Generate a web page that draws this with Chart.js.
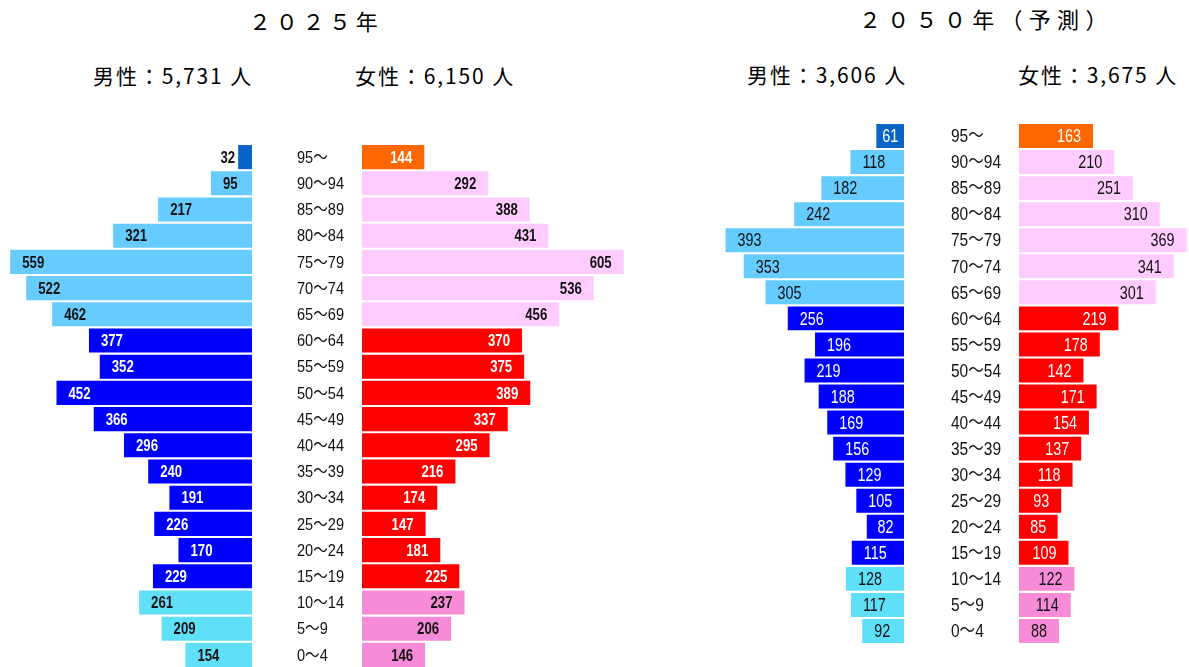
<!DOCTYPE html>
<html><head><meta charset="utf-8">
<script src="https://cdn.jsdelivr.net/npm/chart.js@4/dist/chart.umd.min.js"></script>
<style>
html,body{margin:0;padding:0;background:#fff;width:1189px;height:667px;overflow:hidden;position:relative}
canvas{position:absolute}
.t{position:absolute;font-family:"Noto Sans CJK JP","Noto Sans CJK SC",sans-serif;color:#000;white-space:nowrap;line-height:28px}
.ttl{font-size:22px;letter-spacing:4.7px}
.ttl2{font-size:22px;letter-spacing:6.3px}
.sub{font-size:21px;letter-spacing:1.9px}
</style></head><body>
<div class="t ttl" style="left:249px;top:6px">２０２５年</div>
<div class="t ttl2" style="left:859px;top:4px">２０５０年（予測）</div>
<div class="t sub" id="s1" style="left:93px;top:61px"></div>
<div class="t sub" id="s2" style="left:355px;top:61px"></div>
<div class="t sub" id="s3" style="left:747px;top:60px"></div>
<div class="t sub" id="s4" style="left:1018px;top:60px"></div>
<canvas id="m25" width="252" height="524" style="left:0;top:144px"></canvas>
<canvas id="f25" width="345" height="524" style="left:297px;top:144px"></canvas>
<canvas id="m50" width="244" height="521" style="left:660px;top:123px"></canvas>
<canvas id="f50" width="238" height="521" style="left:951px;top:123px"></canvas>
<script>
const ageLabels = ['95～','90～94','85～89','80～84','75～79','70～74','65～69','60～64','55～59','50～54','45～49','40～44','35～39','30～34','25～29','20～24','15～19','10～14','5～9','0～4'];
const male2025 = [32,95,217,321,559,522,462,377,352,452,366,296,240,191,226,170,229,261,209,154];
const female2025 = [144,292,388,431,605,536,456,370,375,389,337,295,216,174,147,181,225,237,206,146];
const male2050 = [61,118,182,242,393,353,305,256,196,219,188,169,156,129,105,82,115,128,117,92];
const female2050 = [163,210,251,310,369,341,301,219,178,142,171,154,137,118,93,85,109,122,114,88];
const totalLabels = ['男性：5,731 人','女性：6,150 人','男性：3,606 人','女性：3,675 人'];

['s1','s2','s3','s4'].forEach((id,i)=>{document.getElementById(id).textContent = totalLabels[i];});

const palette = {
  male:   {top:'#0A64C8', old:'#66CCFF', work:'#0000FF', young:'#60E0F8'},
  female: {top:'#FF6600', old:'#FFCCFF', work:'#FF0000', young:'#F78BD8'}
};
function group(i){ return i===0?'top':(i<=6?'old':(i<=16?'work':'young')); }
function barColors(side){ return ageLabels.map((_,i)=>palette[side][group(i)]); }
function textColors(){ return ageLabels.map((_,i)=>{const g=group(i); return (g==='top'||g==='work')?'#FFFFFF':'#111111';}); }

const FAM = "'Liberation Sans',Arial,'Noto Sans CJK JP',sans-serif";

function drawNarrow(ctx, txt, x, y, sx, align){
  const w = ctx.measureText(txt).width * sx;
  let lx = x;
  if (align === 'right') lx = x - w;
  else if (align === 'center') lx = x - w/2;
  ctx.save();
  ctx.translate(lx, y);
  ctx.scale(sx, 1);
  ctx.textAlign = 'left';
  ctx.fillText(txt, 0, 0);
  ctx.restore();
}

const valueLabels = {
  id:'valueLabels',
  afterDatasetsDraw(chart, args, opts){
    const ctx = chart.ctx;
    const meta = chart.getDatasetMeta(0);
    const ds = chart.data.datasets[0];
    ctx.save();
    ctx.textBaseline = 'middle';
    ctx.font = opts.font;
    const sx = opts.refWidth / ctx.measureText(opts.refText).width;
    meta.data.forEach((bar,i)=>{
      const txt = String(ds.data[i]);
      const tw = ctx.measureText(txt).width * sx;
      const l = Math.min(bar.x, bar.base), r = Math.max(bar.x, bar.base);
      const w = r - l, cx = (l + r) / 2;
      if (tw + 6 > w) {
        ctx.fillStyle = '#111111';
        if (opts.side === 'male') drawNarrow(ctx, txt, l - 3, bar.y + 1, sx, 'right');
        else drawNarrow(ctx, txt, r + 3, bar.y + 1, sx, 'left');
      } else if (opts.side === 'male') {
        ctx.fillStyle = opts.colors[i];
        drawNarrow(ctx, txt, Math.min(l + opts.pad, cx - tw / 2), bar.y + 1, sx, 'left');
      } else {
        ctx.fillStyle = opts.colors[i];
        drawNarrow(ctx, txt, Math.max(r - opts.pad, cx + tw / 2), bar.y + 1, sx, 'right');
      }
    });
    if (opts.ageFont) {
      ctx.font = opts.ageFont;
      ctx.fillStyle = '#111111';
      const asx = opts.ageRefWidth / ctx.measureText('90～94').width;
      const ys = chart.scales.y;
      chart.data.labels.forEach((lab, i)=>{
        drawNarrow(ctx, lab, 0, ys.getPixelForValue(i) + 1, asx, 'left');
      });
    }
    ctx.restore();
  }
};

function makeChart(id, values, side, max, cfg){
  new Chart(document.getElementById(id), {
    type:'bar',
    data:{labels: ageLabels, datasets:[{data: values, backgroundColor: barColors(side), borderWidth:0, categoryPercentage:1, barPercentage:0.92}]},
    options:{
      indexAxis:'y', responsive:false, animation:false, devicePixelRatio:1,
      layout:{padding:{left: cfg.padLeft || 0, right:0, top:0, bottom:0}},
      plugins:{legend:{display:false}, tooltip:{enabled:false},
        valueLabels:{font: cfg.valFont, refText: cfg.refText, refWidth: cfg.refWidth, colors: textColors(), side: side, pad: cfg.pad,
                     ageFont: cfg.ageFont, ageRefWidth: cfg.ageRefWidth}},
      scales:{
        x:{display:false, min:0, max:max, reverse: side==='male'},
        y:{display:false}
      }
    },
    plugins:[valueLabels]
  });
}

makeChart('m25', male2025, 'male', 252/0.4325, {valFont:"bold 17px "+FAM, refText:'559', refWidth:22, pad:12});
makeChart('f25', female2025, 'female', 280/0.4325, {valFont:"bold 17px "+FAM, refText:'559', refWidth:22, pad:12, padLeft:65, ageFont:"17px "+FAM, ageRefWidth:47});
makeChart('m50', male2050, 'male', 244/0.454, {valFont:"19px "+FAM, refText:'393', refWidth:24, pad:12});
makeChart('f50', female2050, 'female', 170/0.454, {valFont:"19px "+FAM, refText:'393', refWidth:24, pad:12, padLeft:68, ageFont:"19px "+FAM, ageRefWidth:50});
</script>
</body></html>
